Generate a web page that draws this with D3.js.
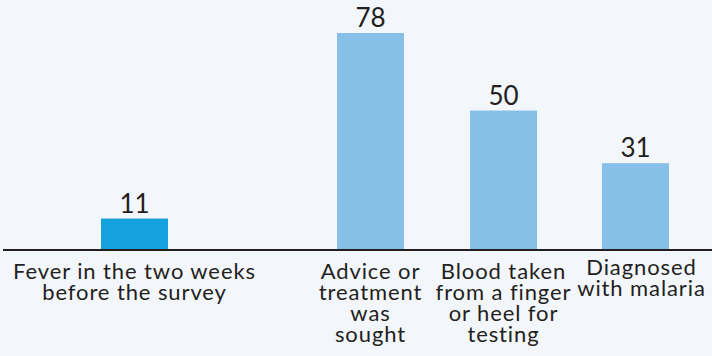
<!DOCTYPE html>
<html><head><meta charset="utf-8">
<script src="https://cdn.jsdelivr.net/npm/d3@7"></script>
<style>
html,body{margin:0;padding:0;background:#f3f6fb;}
svg{display:block;}
text{font-family:"Lato","Open Sans",sans-serif;fill:#231f20;}
</style></head>
<body><svg id="c" width="712" height="356"></svg>
<script>
const categories = ["Fever in the two weeks before the survey","Advice or treatment was sought","Blood taken from a finger or heel for testing","Diagnosed with malaria"];
const labelLines = [["Fever in the two weeks","before the survey"],["Advice or","treatment","was","sought"],["Blood taken","from a finger","or heel for","testing"],["Diagnosed","with malaria"]];
const values = [11, 78, 50, 31];
const colors = ["#15a2dc","#86c0e8","#86c0e8","#86c0e8"];

const W = 712, H = 356, base = 249, barW = 67;
const svg = d3.select("#c");
const x = d3.scaleOrdinal().domain(categories).range([134.5, 370.5, 503.5, 635.5]);
const y = d3.scaleLinear().domain([0, 78]).range([base, 33]);

const data = categories.map((c,i)=>({c, v:values[i], col:colors[i], lines:labelLines[i]}));

svg.selectAll("rect.bar").data(data).join("rect")
  .attr("class","bar")
  .attr("x", d=>x(d.c)-barW/2).attr("width", barW)
  .attr("y", d=>y(d.v)).attr("height", d=>base - y(d.v))
  .attr("fill", d=>d.col);

svg.append("line").attr("x1",3).attr("x2",W).attr("y1",base+1).attr("y2",base+1)
  .attr("stroke","#231f20").attr("stroke-width",2);

svg.selectAll("text.val").data(data).join("text")
  .attr("class","val")
  .attr("x", d=>x(d.c)).attr("y", d=>y(d.v)-6)
  .attr("text-anchor","middle").attr("font-size",26)
  .text(d=>d.v);

const lbl = svg.selectAll("text.lbl").data(data).join("text")
  .attr("class","lbl")
  .attr("text-anchor","middle").attr("font-size",22)
  .attr("letter-spacing","0.9")
  .attr("x", d=>x(d.c)).attr("y", (d,i)=> i===3 ? 275 : 279);
lbl.selectAll("tspan").data(d=>d.lines.map(l=>({l, cx:x(d.c) + (d.c===categories[3] ? 6 : 0)}))).join("tspan")
  .attr("x", d=>d.cx).attr("dy",(d,i)=>i===0?0:21)
  .text(d=>d.l);
</script></body></html>
